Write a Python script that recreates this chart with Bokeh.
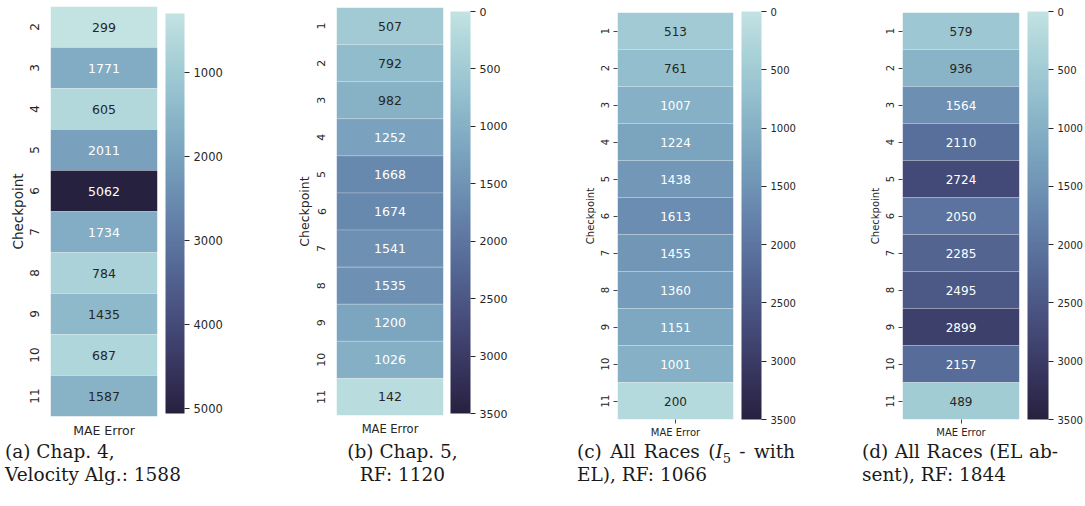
import numpy as np
from bokeh.plotting import figure
from bokeh.models import ColumnDataSource, LinearColorMapper, ColorBar, FixedTicker, Div, FactorRange
from bokeh.layouts import row, column
from bokeh.transform import transform
from bokeh.core.properties import value
from bokeh.embed import file_html
from bokeh.resources import INLINE

# ---------------- data ----------------
metric = ["MAE Error"]
checkpoints_a = ["2", "3", "4", "5", "6", "7", "8", "9", "10", "11"]
mae_a = [299, 1771, 605, 2011, 5062, 1734, 784, 1435, 687, 1587]
checkpoints_b = ["1", "2", "3", "4", "5", "6", "7", "8", "9", "10", "11"]
mae_b = [507, 792, 982, 1252, 1668, 1674, 1541, 1535, 1200, 1026, 142]
checkpoints_c = ["1", "2", "3", "4", "5", "6", "7", "8", "9", "10", "11"]
mae_c = [513, 761, 1007, 1224, 1438, 1613, 1455, 1360, 1151, 1001, 200]
checkpoints_d = ["1", "2", "3", "4", "5", "6", "7", "8", "9", "10", "11"]
mae_d = [579, 936, 1564, 2110, 2724, 2050, 2285, 2495, 2899, 2157, 489]
cbar_ticks_a = [1000, 2000, 3000, 4000, 5000]
cbar_ticks_bcd = [0, 500, 1000, 1500, 2000, 2500, 3000, 3500]
cbar_range_bcd = [0, 3500]
caption_lines = [
    ["(a) Chap. 4,", "Velocity Alg.: 1588"],
    ["(b) Chap. 5,", "RF: 1120"],
    ["(c) All Races (<i>I</i><sub style='font-size:70%;line-height:0'>5</sub> - with", "EL), RF: 1066"],
    ["(d) All Races (EL ab-", "sent), RF: 1844"],
]

# ---------------- colour map (cubehelix "ch:start=.2,rot=-.3", light -> dark) ----------------
def cubehelix(x, start=0.2, rot=-0.3, hue=0.8):
    phi = 2 * np.pi * (start / 3 + rot * x)
    a = hue * x * (1 - x) / 2
    r = x + a * (-0.14861 * np.cos(phi) + 1.78277 * np.sin(phi))
    g = x + a * (-0.29227 * np.cos(phi) - 0.90649 * np.sin(phi))
    b = x + a * (1.97294 * np.cos(phi))
    return "#%02x%02x%02x" % tuple(int(round(255 * min(max(c, 0), 1))) for c in (r, g, b))

palette = [cubehelix(x) for x in np.linspace(0.15, 0.85, 256)]  # dark -> light

DARK = "#262626"
SANS = "DejaVu Sans"


def panel(cps, vals, vmin, vmax, ticks, g):
    mapper = LinearColorMapper(palette=palette, low=vmax, high=vmin)
    frac = [(v - vmin) / (vmax - vmin) for v in vals]
    tcol = [DARK if f < 0.284 else "#ffffff" for f in frac]
    src = ColumnDataSource(dict(m=metric * len(cps), cp=cps, v=vals,
                                lab=[str(v) for v in vals], tc=tcol))
    p = figure(width=g["w"], height=g["h"],
               x_range=FactorRange(factors=metric),
               y_range=FactorRange(factors=list(reversed(cps))),
               output_backend="svg", toolbar_location=None,
               min_border_left=g["l"], min_border_right=g["r"],
               min_border_top=g["t"], min_border_bottom=g["b"])
    p.rect(x="m", y="cp", width=1, height=1, source=src,
           fill_color=transform("v", mapper), line_color="white", line_alpha=0.2, line_width=1)
    p.text(x="m", y="cp", text="lab", source=src, text_align="center", text_baseline="middle",
           text_color="tc", text_font=value(SANS), text_font_size=g["annot"])
    p.outline_line_color = None
    p.grid.grid_line_color = None
    for ax in (p.xaxis, p.yaxis):
        ax.axis_line_color = None
        ax.major_label_text_font = SANS
        ax.major_label_text_color = DARK
        ax.axis_label_text_font = SANS
        ax.axis_label_text_color = DARK
        ax.axis_label_text_font_style = "normal"
        ax.major_tick_out = g["tick"]
        ax.major_tick_in = 0
        ax.major_tick_line_color = "#444444" if g["tick"] else None
    p.yaxis.axis_label = "Checkpoint"
    p.yaxis.axis_label_text_font_size = g["lab"]
    p.yaxis.major_label_text_font_size = g["ytick"]
    p.yaxis.major_label_orientation = "vertical"
    p.yaxis.major_label_standoff = g["ystand"]
    p.yaxis.axis_label_standoff = g["labstand"]
    p.xaxis.major_label_text_font_size = g["xtick"]
    p.xaxis.major_label_standoff = g["xstand"]

    cb = ColorBar(color_mapper=mapper, ticker=FixedTicker(ticks=ticks),
                  width=g["cbw"], height=g["cbh"], padding=0, margin=0,
                  location=g["cbloc"],
                  major_tick_out=5, major_tick_in=0, major_tick_line_color=DARK,
                  minor_tick_line_color=None, bar_line_color=None, border_line_color=None,
                  label_standoff=4, major_label_text_font=SANS,
                  major_label_text_font_size=g["cbfont"], major_label_text_color=DARK,
                  background_fill_color=None)
    p.add_layout(cb, "right")
    return p


geoms = [
    dict(w=272, h=440, l=50, r=115, t=6, b=19, annot="12.5px", lab="13.5px", ytick="12px",
         xtick="12.5px", ystand=12, labstand=1, xstand=6, tick=0, cbw=19, cbh=400,
         cbloc=(8, 3), cbfont="11.5px"),
    dict(w=273, h=440, l=64, r=102, t=7, b=25, annot="12.5px", lab="12.5px", ytick="11px",
         xtick="11.5px", ystand=11, labstand=3, xstand=6, tick=0, cbw=20, cbh=402,
         cbloc=(7, 2), cbfont="11px"),
    dict(w=270, h=440, l=72, r=82, t=12, b=20, annot="12px", lab="10px", ytick="10px",
         xtick="10px", ystand=5, labstand=2, xstand=3, tick=4, cbw=20, cbh=408,
         cbloc=(8, 0), cbfont="10px"),
    dict(w=270, h=440, l=87, r=66, t=12, b=20, annot="12px", lab="10px", ytick="10px",
         xtick="10px", ystand=5, labstand=2, xstand=3, tick=4, cbw=21, cbh=408,
         cbloc=(8, 0), cbfont="10px"),
]

pa = panel(checkpoints_a, mae_a, min(mae_a), max(mae_a), cbar_ticks_a, geoms[0])
pb = panel(checkpoints_b, mae_b, cbar_range_bcd[0], cbar_range_bcd[1], cbar_ticks_bcd, geoms[1])
pc = panel(checkpoints_c, mae_c, cbar_range_bcd[0], cbar_range_bcd[1], cbar_ticks_bcd, geoms[2])
pd_ = panel(checkpoints_d, mae_d, cbar_range_bcd[0], cbar_range_bcd[1], cbar_ticks_bcd, geoms[3])

# (outer style, first-line style, second-line style)
cap_style = [
    ("margin-left:5px;width:260px;", "", ""),
    ("width:261px;text-align:center;", "", ""),
    ("margin-left:32px;width:236px;",
     "width:218px;text-align:justify;text-align-last:justify;", ""),
    ("margin-left:47px;width:222px;",
     "width:196px;text-align:justify;text-align-last:justify;", ""),
]


def caption(i, w):
    outer, l1, l2 = cap_style[i]
    html = ("<div style=\"font-family:'DejaVu Serif';font-size:18.5px;line-height:23px;"
            "color:#1a1a1a;" + outer + "\">"
            "<div style=\"" + l1 + "\">" + caption_lines[i][0] + "</div>"
            "<div style=\"" + l2 + "\">" + caption_lines[i][1] + "</div></div>")
    return Div(text=html, width=w, height=66, margin=(0, 0, 0, 0))


layout = row(
    column(pa, caption(0, 272)),
    column(pb, caption(1, 273)),
    column(pc, caption(2, 270)),
    column(pd_, caption(3, 270)),
)

open("out.html", "w").write(file_html(layout, INLINE))
